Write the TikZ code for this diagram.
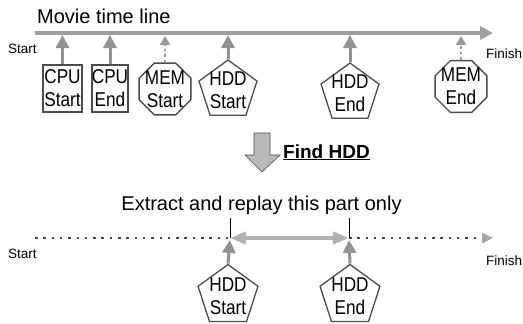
\documentclass[tikz,border=0pt]{standalone}
\usepackage{fontspec}
\setmainfont{Liberation Sans}
\newfontfamily\condfont[FakeStretch=0.86]{Liberation Sans}
\usetikzlibrary{arrows.meta, shapes.geometric}

\begin{document}
\begin{tikzpicture}[x=1pt, y=-1pt,
    txt/.style={inner sep=0pt, font=\fontsize{20}{23}\selectfont},
    small/.style={inner sep=0pt, font=\fontsize{13.5}{16}\selectfont},
    tag/.style={inner sep=0pt, align=center, font=\condfont\fontsize{20}{23}\selectfont},
    evbox/.style={rectangle, draw=black!70, line width=1.4pt, inner sep=0pt},
    penta/.style={regular polygon, regular polygon sides=5, draw=black!70, line width=1.3pt, inner sep=0pt, minimum size=#1},
    octa/.style={regular polygon, regular polygon sides=8, draw=black!70, line width=1.3pt, inner sep=0pt, minimum size=#1},
    hit/.style={draw=gray!85, line width=3pt, shorten >=2pt, -{Triangle[length=13pt,width=13pt]}},
    memhit/.style={draw=gray!80, line width=2.5pt, dash pattern=on 2.5pt off 3pt, shorten >=3pt, -{Triangle[length=9pt,width=10pt]}},
    bar/.style={draw=gray!75, line width=4pt, -{Triangle[length=13pt,width=13pt]}},
    dots/.style={draw=black!70, line width=2.5pt, dash pattern=on 2.5pt off 5.8pt},
    span/.style={draw=gray!60, line width=4pt, {Triangle[length=16pt,width=12pt]}-{Triangle[length=16pt,width=12pt]}},
    tick/.style={draw=black, line width=0.8pt}]
  \useasboundingbox (0,0) rectangle (523,324);

  \node[txt, anchor=base west] (title) at (37,23.3) {Movie time line};
  \coordinate (tlS) at (35,33);
  \coordinate (tlE) at (493,33);
  \node[small, anchor=base west] (start1) at (8,53) {Start};
  \node[small, anchor=base west] (finish1) at (486,58) {Finish};

  \node[evbox, minimum width=39, minimum height=47] (cs) at (62.5,88.5) {};
  \node[evbox, minimum width=36, minimum height=47] (ce) at (110,88.5) {};
  \node[octa=56] (ms) at (165,89) {};
  \node[penta=61] (hs) at (228,90.5) {};
  \node[penta=61] (he) at (350,93.5) {};
  \node[octa=56] (me) at (461,86.5) {};

  \node[tag] (csT) at (cs) {CPU\\Start};
  \node[tag] (ceT) at (ce) {CPU\\End};
  \node[tag] (msT) at (ms) {MEM\\Start};
  \node[tag] (hsT) at (hs) {HDD\\Start};
  \node[tag] (heT) at (he) {HDD\\End};
  \node[tag] (meT) at (me) {MEM\\End};

  \draw[hit] (cs.north) -- (cs.north |- tlS);
  \draw[hit] (ce.north) -- (ce.north |- tlS);
  \draw[memhit] (ms.north) -- (ms.north |- tlS);
  \draw[hit] (hs.north) -- (hs.north |- tlS);
  \draw[hit] (he.north) -- (he.north |- tlS);
  \draw[memhit] (me.north) -- (me.north |- tlS);
  \draw[bar] (tlS) -- (tlE);

  \filldraw[fill=gray!55, draw=gray!60!black, line width=0.6pt]
    (254,133) -- (270,133) -- (270,155) -- (280,155) -- (262,172) -- (245,155) -- (254,155) -- cycle;
  \node[txt, anchor=base west, font=\bfseries\fontsize{19}{22}\selectfont] (find) at (283,158) {\underline{Find HDD}};

  \node[txt, anchor=base] (extract) at (261.5,210) {Extract and replay this part only};

  \coordinate (bS) at (35,238);
  \coordinate (bA) at (230,238);
  \coordinate (bB) at (349,238);
  \coordinate (bE) at (493,238);
  \coordinate (tA) at (230,218);
  \coordinate (tB) at (349,218);
  \node[small, anchor=base west] (start2) at (8,258) {Start};
  \node[small, anchor=base west] (finish2) at (486,265) {Finish};

  \node[penta=63] (hs2) at (228,296) {};
  \node[penta=63] (he2) at (350,296) {};
  \node[tag] (hs2T) at (hs2) {HDD\\Start};
  \node[tag] (he2T) at (he2) {HDD\\End};

  \draw[dots] (bS) -- (bA);
  \draw[dots, -{Triangle[length=11pt,width=10pt,color=gray!70]}] (bB) -- (bE);
  \draw[span] (bA) -- (bB);
  \draw[tick] (bA) -- (tA);
  \draw[tick] (bB) -- (tB);
  \draw[hit] (hs2.north) -- (bA);
  \draw[hit] (he2.north) -- (bB);
\end{tikzpicture}
\end{document}
